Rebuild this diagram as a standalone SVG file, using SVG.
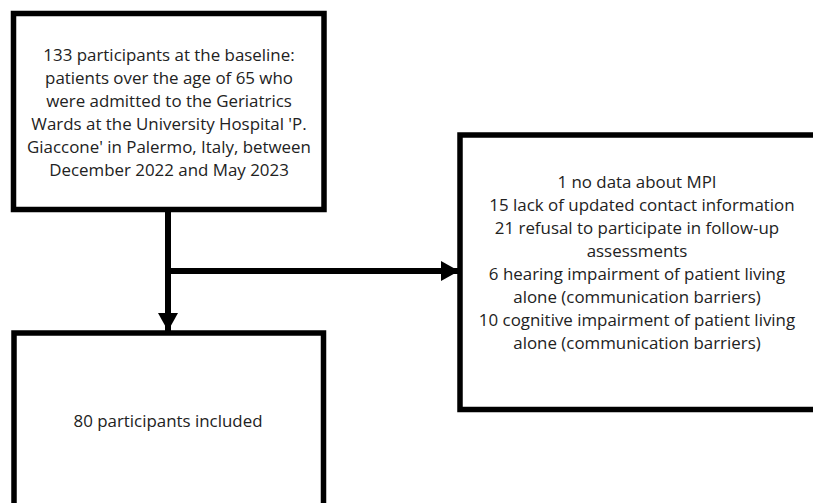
<svg xmlns="http://www.w3.org/2000/svg" width="813" height="503" viewBox="0 0 813 503">
<style>
.box{fill:#fff;stroke:#000;stroke-width:5.5}
.t{font-family:"Open Sans","Noto Sans",sans-serif;font-size:16.9px;fill:#222;text-anchor:middle}
.c{stroke:#000;stroke-width:6;fill:none}
</style>
<defs>
<marker id="ah" markerUnits="userSpaceOnUse" markerWidth="20" markerHeight="20" refX="18" refY="10" orient="auto">
<path d="M0,0 L18,10 L0,20 Z" fill="#000"/>
</marker>
</defs>
<rect width="813" height="503" fill="#fff"/>
<g id="connectors">
<line class="c" x1="168" y1="212" x2="168" y2="331" marker-end="url(#ah)"/>
<line class="c" x1="171" y1="271" x2="459" y2="271" marker-end="url(#ah)"/>
</g>
<g id="baseline">
<rect class="box" x="13.5" y="13.5" width="310.5" height="196"/>
<text class="t" x="169" y="61">133 participants at the baseline:</text>
<text class="t" x="169" y="84">patients over the age of 65 who</text>
<text class="t" x="169" y="107">were admitted to the Geriatrics</text>
<text class="t" x="169" y="130">Wards at the University Hospital 'P.</text>
<text class="t" x="169" y="153">Giaccone' in Palermo, Italy, between</text>
<text class="t" x="169" y="176">December 2022 and May 2023</text>
</g>
<g id="excluded">
<rect class="box" x="460" y="135" width="370" height="274.5"/>
<text class="t" x="637" y="188">1 no data about MPI</text>
<text class="t" x="642" y="211">15 lack of updated contact information</text>
<text class="t" x="637" y="234">21 refusal to participate in follow-up</text>
<text class="t" x="637" y="257">assessments</text>
<text class="t" x="637" y="280">6 hearing impairment of patient living</text>
<text class="t" x="637" y="303">alone (communication barriers)</text>
<text class="t" x="637" y="326">10 cognitive impairment of patient living</text>
<text class="t" x="637" y="349">alone (communication barriers)</text>
</g>
<g id="included">
<rect class="box" x="14" y="333" width="309.5" height="200"/>
<text class="t" x="168" y="427">80 participants included</text>
</g>
</svg>
